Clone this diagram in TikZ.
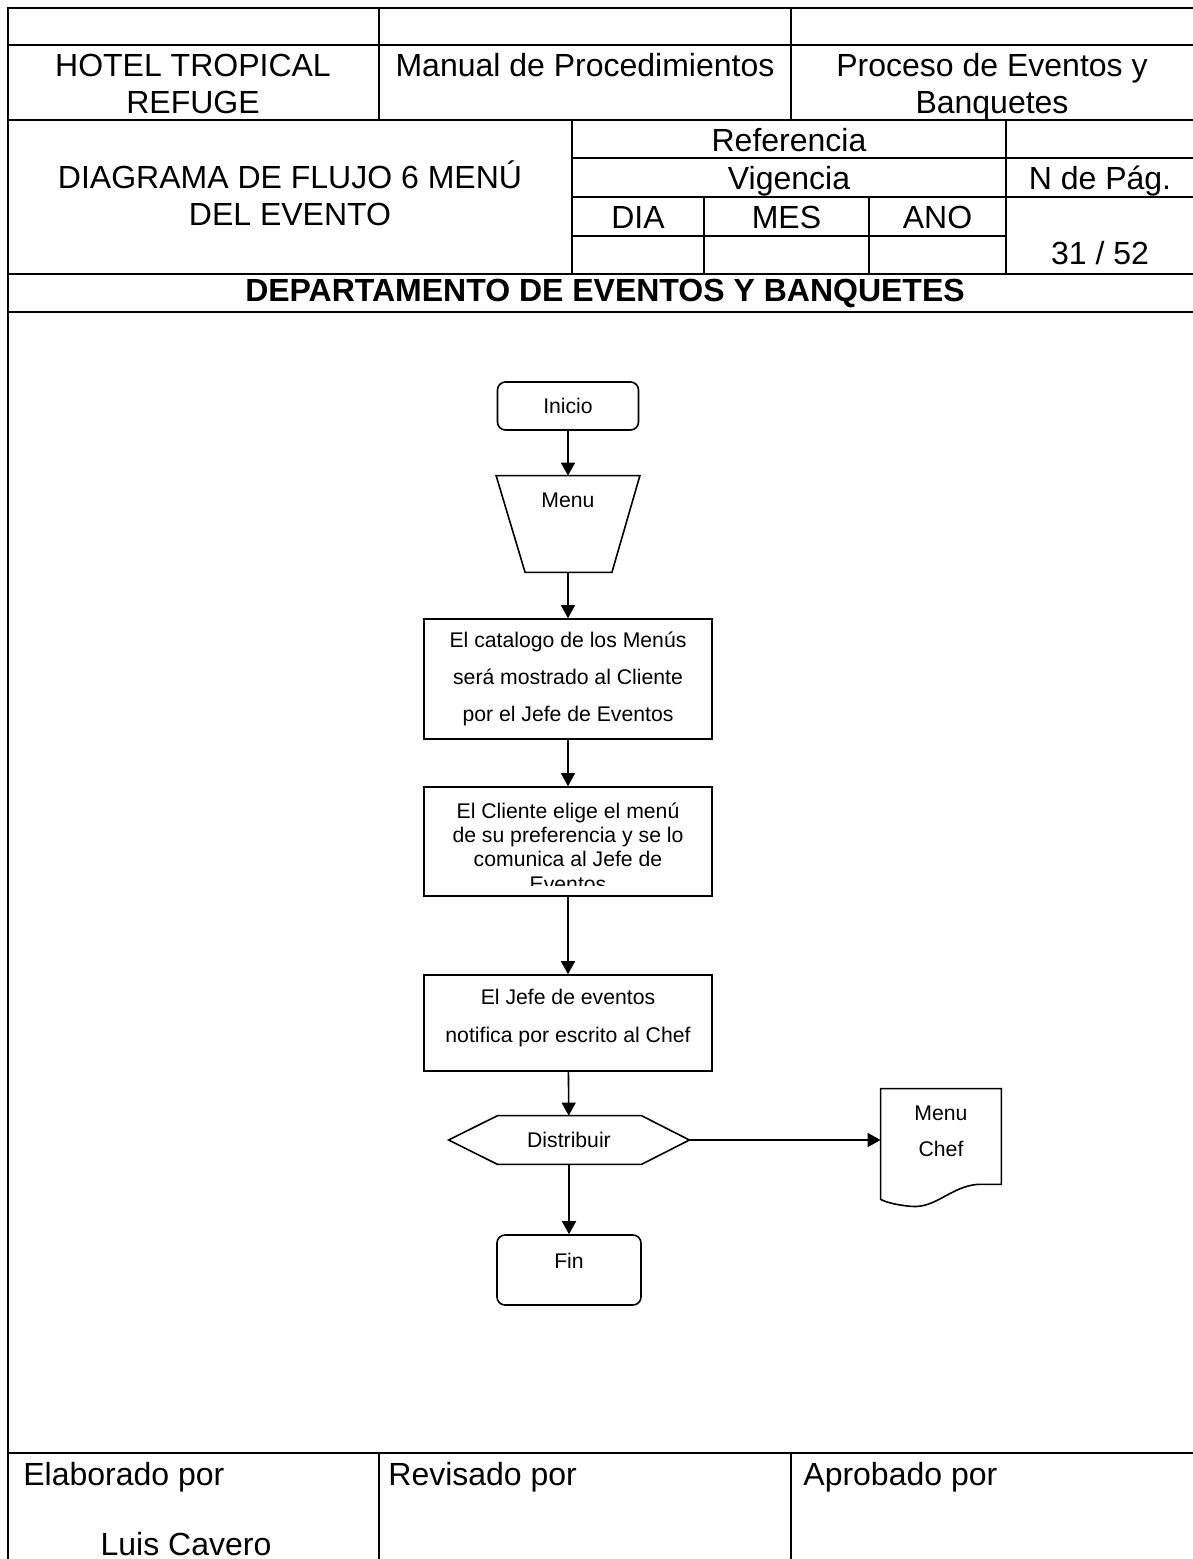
\documentclass[tikz,border=0pt]{standalone}
\usepackage{fontspec}
\setmainfont{Liberation Sans}
\usetikzlibrary{arrows.meta,calc}

\begin{document}
\begin{tikzpicture}[x=0.5pt,y=-0.5pt,
  tbl/.style={line width=1pt},
  hdr/.style={font=\fontsize{16}{18.5}\selectfont,align=center,inner sep=0pt},
  txt/.style={font=\fontsize{10.6}{18.5}\selectfont,align=center,inner sep=0pt},
  procbox/.style={draw,line width=0.8pt,minimum width=144pt,txt},
  termbox/.style={draw,line width=0.8pt,rounded corners=4pt,txt},
  flow/.style={-{Triangle[length=6.5pt,width=7pt]},line width=0.8pt}
]
  \useasboundingbox (0,0) rectangle (1193,1559);
  \fill[white] (0,0) rectangle (1193,1559);
  \clip (0,0) rectangle (1193,1559);

  % header table
  \draw[tbl] (8,1570) -- (8,8) -- (1200,8);
  \draw[tbl] (8,45) -- (1200,45);
  \draw[tbl] (8,120) -- (1200,120);
  \draw[tbl] (572,158) -- (1200,158);
  \draw[tbl] (572,197) -- (1200,197);
  \draw[tbl] (572,236) -- (1006,236);
  \draw[tbl] (8,274) -- (1200,274);
  \draw[tbl] (8,312) -- (1200,312);
  \draw[tbl] (8,1453) -- (1200,1453);
  \foreach \x in {379,791} \draw[tbl] (\x,8) -- (\x,120);
  \foreach \x in {572,1006} \draw[tbl] (\x,120) -- (\x,274);
  \foreach \x in {704,869} \draw[tbl] (\x,197) -- (\x,274);
  \foreach \x in {379,791} \draw[tbl] (\x,1453) -- (\x,1570);

  \node[hdr] (hotel) at (193,83.5) {HOTEL TROPICAL\\REFUGE};
  \node[hdr] (manual) at (585,65) {Manual de Procedimientos};
  \node[hdr] (proceso) at (992,87) {Proceso de Eventos y\\Banquetes};
  \node[hdr] (titulo) at (290,193) {DIAGRAMA DE FLUJO 6 MENÚ\\DEL EVENTO};
  \node[hdr] (ref) at (789,140) {Referencia};
  \node[hdr,anchor=base] (vig) at (789,189.5) {Vigencia};
  \node[hdr,anchor=base] (npag) at (1100,189.5) {N de Pág.};
  \node[hdr] (dia) at (638,217) {DIA};
  \node[hdr] (mes) at (786.5,217) {MES};
  \node[hdr] (ano) at (937.5,217) {ANO};
  \node[hdr,anchor=base] (pag) at (1100,264.5) {31 / 52};
  \node[hdr,font=\fontsize{16}{18.5}\selectfont\bfseries] (dept) at (605,293)
    {DEPARTAMENTO DE EVENTOS Y BANQUETES};

  % flowchart
  \node[termbox,minimum width=70.5pt,minimum height=24pt] (inicio) at (568,406) {Inicio};
  \node[minimum width=71.5pt,minimum height=48pt,inner sep=0pt] (menu) at (568,524) {};
  \draw[line width=0.8pt] (menu.north west) -- (menu.north east)
    -- ($(menu.south east)+(-28,0)$) -- ($(menu.south west)+(29,0)$) -- cycle;
  \node[txt] (menutxt) at (568,500) {Menu};
  \node[procbox,minimum height=60pt] (box1) at (568,679)
    {El catalogo de los Menús\\será mostrado al Cliente\\por el Jefe de Eventos};
  \node[procbox,minimum height=54.5pt] (box2) at (568,841.5) {};
  \begin{scope}
    \clip (box2.north west) rectangle ($(box2.south east)+(0,-11)$);
    \node[txt,font=\fontsize{10.6}{12.2}\selectfont] (box2txt) at (568,847)
      {El Cliente elige el menú\\de su preferencia y se lo\\comunica al Jefe de\\Eventos};
  \end{scope}
  \node[procbox,minimum height=48pt] (box3) at (568,1023) {};
  \node[txt,font=\fontsize{10.6}{18.75}\selectfont] (box3txt) at (568,1018)
    {El Jefe de eventos\\notifica por escrito al Chef};
  \node[minimum width=120pt,minimum height=24pt,inner sep=0pt] (dist) at (569,1140) {};
  \draw[line width=0.8pt] (dist.west) -- ($(dist.north west)+(49,0)$)
    -- ($(dist.north east)+(-48,0)$) -- (dist.east) -- ($(dist.south east)+(-48,0)$)
    -- ($(dist.south west)+(49,0)$) -- cycle;
  \node[txt] (disttxt) at (569,1140) {Distribuir};
  \node[minimum width=60pt,minimum height=47.5pt,inner sep=0pt] (doc) at (941,1136.5) {};
  \draw[line width=0.8pt] (doc.north west) -- (doc.north east) -- (doc.south east)
    -- ($(doc.south east)+(-24,0)$)
    .. controls ($(doc.south east)+(-50,2)$) and ($(doc.south west)+(55,24)$) .. ($(doc.south west)+(31,22)$)
    .. controls ($(doc.south west)+(20,21)$) and ($(doc.south west)+(8,19)$) .. ($(doc.south west)+(0,15)$)
    -- cycle;
  \node[txt,font=\fontsize{10.6}{18}\selectfont] (doctxt) at (941,1131) {Menu\\Chef};
  \node[termbox,minimum width=72pt,minimum height=35pt] (fin) at (569,1270) {};
  \node[txt] (fintxt) at (569,1261) {Fin};

  \draw[flow] (inicio) -- (menu);
  \draw[flow] (menu) -- (box1);
  \draw[flow] (box1) -- (box2);
  \draw[flow] (box2) -- (box3);
  \draw[flow] (box3) -- (dist);
  \draw[flow] (dist.east) -- (dist.east -| doc.west);
  \draw[flow] (dist) -- (fin);

  % signatures
  \node[hdr,anchor=base west] (elab) at (23,1485) {Elaborado por};
  \node[hdr,anchor=base] (autor) at (186,1555) {Luis Cavero};
  \node[hdr,anchor=base west] (rev) at (388,1485) {Revisado por};
  \node[hdr,anchor=base west] (apro) at (803,1485) {Aprobado por};
\end{tikzpicture}
\end{document}
